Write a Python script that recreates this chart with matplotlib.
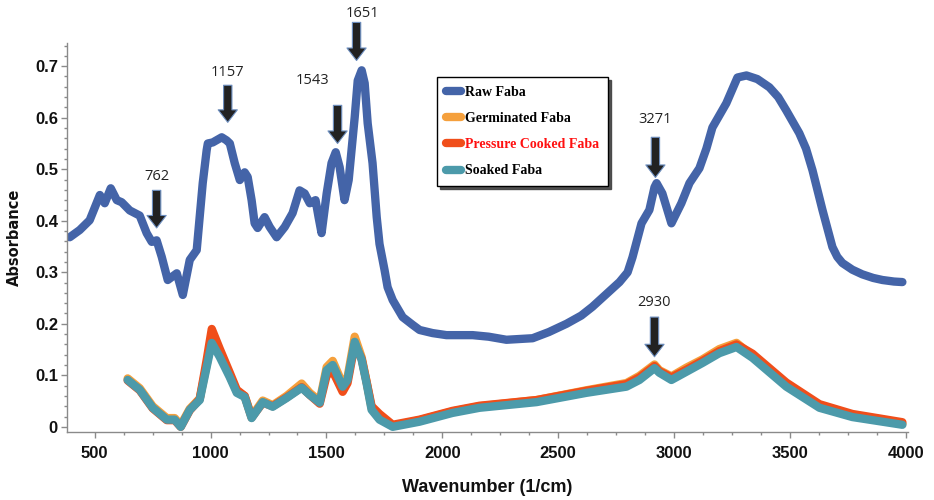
import matplotlib
matplotlib.use("Agg")
import matplotlib.pyplot as plt
from matplotlib.ticker import MultipleLocator

# ---------------- data ----------------
raw_wn = [392, 435, 478, 522, 543, 569, 595, 616, 651, 694, 724, 746, 767, 789, 815, 854,
          880, 910, 940, 966, 983, 988, 1009, 1048, 1069, 1083, 1104, 1126, 1147, 1160,
          1177, 1190, 1203, 1233, 1255, 1285, 1320, 1354, 1384, 1406, 1428, 1453, 1466,
          1479, 1501, 1522, 1540, 1557, 1578, 1596, 1622, 1635, 1652, 1665, 1678, 1699,
          1717, 1729, 1751, 1764, 1786, 1829, 1872, 1902, 1958, 2018, 2131, 2200, 2277,
          2390, 2460, 2536, 2600, 2648, 2709, 2765, 2800, 2821, 2860, 2894, 2916, 2925,
          2950, 2989, 3032, 3067, 3110, 3140, 3166, 3226, 3274, 3313, 3360, 3412, 3450,
          3485, 3541, 3570, 3598, 3641, 3684, 3705, 3727, 3770, 3813, 3860, 3900, 3950,
          3986]
raw_abs = [0.368, 0.382, 0.401, 0.450, 0.434, 0.463, 0.440, 0.436, 0.420, 0.410, 0.376,
           0.359, 0.362, 0.330, 0.285, 0.298, 0.256, 0.324, 0.343, 0.473, 0.537, 0.550,
           0.552, 0.562, 0.556, 0.550, 0.512, 0.479, 0.494, 0.485, 0.440, 0.395, 0.386,
           0.407, 0.388, 0.368, 0.388, 0.415, 0.459, 0.453, 0.434, 0.440, 0.407, 0.376,
           0.453, 0.512, 0.533, 0.504, 0.440, 0.479, 0.601, 0.672, 0.692, 0.667, 0.589,
           0.512, 0.407, 0.355, 0.304, 0.271, 0.246, 0.213, 0.198, 0.188, 0.182, 0.178,
           0.178, 0.175, 0.169, 0.172, 0.184, 0.200, 0.216, 0.233, 0.258, 0.281, 0.300,
           0.329, 0.395, 0.421, 0.465, 0.473, 0.453, 0.395, 0.434, 0.473, 0.502, 0.540,
           0.581, 0.628, 0.678, 0.682, 0.675, 0.659, 0.640, 0.614, 0.570, 0.540, 0.498,
           0.421, 0.349, 0.330, 0.318, 0.305, 0.296, 0.289, 0.285, 0.282, 0.281]

lower_wn = [642, 694, 750, 811, 845, 871, 910, 953, 983, 1005, 1039, 1082, 1113, 1147, 1177,
            1225, 1268, 1328, 1393, 1428, 1471, 1501, 1527, 1570, 1591, 1622, 1652, 1673,
            1695, 1729, 1786, 1902, 2044, 2161, 2407, 2622, 2795, 2851, 2916, 2937, 2989,
            3054, 3123, 3196, 3270, 3339, 3485, 3628, 3770, 3986]
germ_abs = [0.094, 0.075, 0.040, 0.017, 0.017, 0.003, 0.035, 0.055, 0.120, 0.172, 0.140,
            0.100, 0.069, 0.060, 0.020, 0.051, 0.042, 0.060, 0.084, 0.066, 0.050, 0.116,
            0.128, 0.083, 0.096, 0.175, 0.135, 0.088, 0.036, 0.016, 0.002, 0.013, 0.030,
            0.040, 0.052, 0.071, 0.085, 0.099, 0.121, 0.110, 0.098, 0.115, 0.131, 0.151,
            0.163, 0.138, 0.081, 0.040, 0.022, 0.006]
pc_abs = [0.090, 0.071, 0.036, 0.013, 0.013, 0.000, 0.032, 0.054, 0.130, 0.190, 0.152,
          0.106, 0.072, 0.060, 0.018, 0.047, 0.040, 0.057, 0.077, 0.062, 0.045, 0.100,
          0.108, 0.068, 0.085, 0.160, 0.132, 0.088, 0.040, 0.025, 0.004, 0.014, 0.031,
          0.041, 0.052, 0.070, 0.083, 0.096, 0.118, 0.108, 0.096, 0.111, 0.128, 0.147,
          0.160, 0.142, 0.086, 0.044, 0.025, 0.009]
soak_abs = [0.091, 0.072, 0.037, 0.014, 0.014, 0.000, 0.033, 0.052, 0.116, 0.163, 0.136,
            0.097, 0.066, 0.058, 0.017, 0.048, 0.039, 0.056, 0.076, 0.062, 0.047, 0.110,
            0.120, 0.078, 0.091, 0.165, 0.130, 0.085, 0.033, 0.014, 0.000, 0.010, 0.027,
            0.037, 0.048, 0.066, 0.078, 0.091, 0.114, 0.105, 0.091, 0.107, 0.124, 0.143,
            0.155, 0.134, 0.078, 0.037, 0.019, 0.004]

series_names = ["Raw Faba", "Germinated Faba", "Pressure Cooked Faba", "Soaked Faba"]

# annotation labels
ann_labels = ["762", "1157", "1543", "1651", "3271", "2930"]
ann_arrow_x = [767, 1074, 1548, 1630, 2920, 2916]
ann_top_y = [0.459, 0.663, 0.624, 0.785, 0.562, 0.213]
ann_tip_y = [0.386, 0.591, 0.550, 0.711, 0.484, 0.136]
ann_text_x = [767, 1074, 1440, 1656, 2920, 2916]
ann_text_y = [0.486, 0.688, 0.672, 0.802, 0.597, 0.242]

# ---------------- style ----------------
c_raw = "#4464A8"
c_germ = "#F5A03C"
c_pc = "#F04E1A"
c_soak = "#4C9AAA"
tickfont = ["Liberation Sans", "DejaVu Sans"]

fig = plt.figure(figsize=(9.34, 5.0), dpi=100)
ax = fig.add_axes([0.0717, 0.136, 0.9004, 0.778])

lkw = dict(lw=6, solid_capstyle="round", solid_joinstyle="round")
ax.plot(raw_wn, raw_abs, color=c_raw, label=series_names[0], **lkw)
ax.plot(lower_wn, germ_abs, color=c_germ, label=series_names[1], **lkw)
ax.plot(lower_wn, pc_abs, color=c_pc, label=series_names[2], **lkw)
ax.plot(lower_wn, soak_abs, color=c_soak, label=series_names[3], **lkw)

ax.set_xlim(380, 4010)
ax.set_ylim(-0.01, 0.745)
ax.xaxis.set_major_locator(MultipleLocator(500))
ax.xaxis.set_minor_locator(MultipleLocator(125))
ax.yaxis.set_minor_locator(MultipleLocator(0.02))
ax.set_yticks([0, 0.1, 0.2, 0.3, 0.4, 0.5, 0.6, 0.7])
ax.set_yticklabels(["0", "0.1", "0.2", "0.3", "0.4", "0.5", "0.6", "0.7"])

for s in ["top", "right"]:
    ax.spines[s].set_visible(False)
for s in ["left", "bottom"]:
    ax.spines[s].set_color("#8a8a8a")
    ax.spines[s].set_linewidth(1.0)
ax.tick_params(which="major", length=4, width=1, color="#8a8a8a")
ax.tick_params(which="minor", length=2.5, width=1, color="#8a8a8a")
ax.tick_params(axis="x", which="major", pad=6)
ax.tick_params(axis="y", which="major", pad=2.5)
for lab in ax.get_xticklabels() + ax.get_yticklabels():
    lab.set_family(tickfont)
    lab.set_fontweight("bold")
    lab.set_fontsize(12)
    lab.set_color("#111111")

ax.set_xlabel("Wavenumber (1/cm)", family=tickfont, fontweight="bold", fontsize=13,
              color="#111111", labelpad=13)
ax.set_ylabel("Absorbance", family=["DejaVu Sans"], fontweight="bold", fontsize=10.5,
              color="#111111")
ax.yaxis.set_label_coords(-0.0535, 0.5)

for lab, ax_x, ty, tipy, tx, tyy in zip(ann_labels, ann_arrow_x, ann_top_y, ann_tip_y,
                                         ann_text_x, ann_text_y):
    ax.annotate("", xy=(ax_x, tipy), xytext=(ax_x, ty), annotation_clip=False,
                arrowprops=dict(arrowstyle="simple,head_length=0.75,head_width=1.15,tail_width=0.5",
                                mutation_scale=12, fc="#222222", ec="#6C8EBF", lw=0.8,
                                shrinkA=0, shrinkB=0))
    ax.text(tx, tyy, lab, ha="center", va="center", fontsize=10.5, color="#222222",
            family=["Open Sans", "DejaVu Sans"], clip_on=False)

leg = ax.legend(loc="upper left", bbox_to_anchor=(0.44, 0.913), borderaxespad=0,
                frameon=True, fancybox=False, shadow={"color": "0.25", "alpha": 0.9},
                prop={"family": ["Liberation Serif", "DejaVu Serif"], "weight": "bold", "size": 10},
                handlelength=1.1, handletextpad=0.25, labelspacing=0.95, borderpad=0.65)
leg.get_frame().set_edgecolor("black")
leg.get_frame().set_linewidth(1.0)
for h in leg.get_lines():
    h.set_linewidth(6)
leg.get_texts()[2].set_color("#FF1010")

fig.savefig("out.png", dpi=100)
